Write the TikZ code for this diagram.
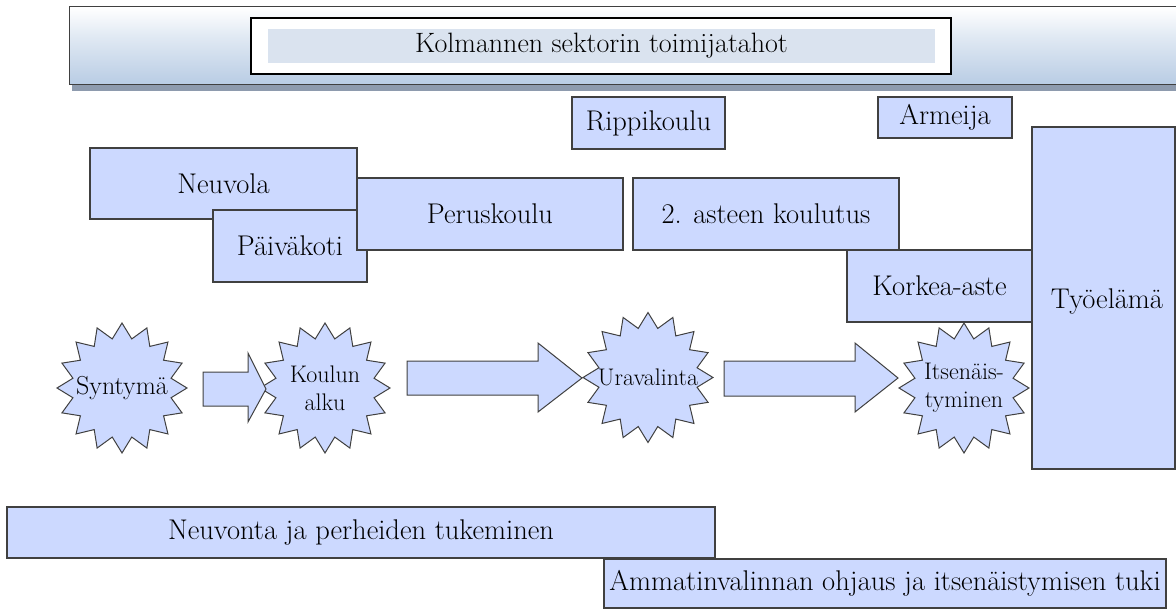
\documentclass[tikz,border=0pt]{standalone}
\usepackage{fontspec}
\usetikzlibrary{shapes.geometric}
\definecolor{boxfill}{HTML}{CCD9FF}
\definecolor{boxline}{HTML}{404040}
\definecolor{bannerblue}{HTML}{B8CCE4}
\definecolor{shadowgray}{HTML}{8E9BAE}
\definecolor{titlefill}{HTML}{DAE3EF}
\pgfdeclareverticalshading{bannershade}{100bp}{color(0bp)=(bannerblue); color(25bp)=(bannerblue); color(55bp)=(bannerblue!45!white); color(75bp)=(white); color(100bp)=(white)}
\tikzset{
  lifebox/.style={draw=boxline, line width=1.1pt, fill=boxfill, inner sep=0pt,
    font=\fontsize{28.5}{34}\selectfont},
  burst/.style={star, star points=16, star point ratio=1.3, draw=boxline,
    line width=1pt, fill=boxfill, minimum size=130pt, inner sep=0pt},
  bursttext/.style={font=\fontsize{24}{28}\selectfont, align=center, inner sep=0pt},
  blockarrow/.style={draw=boxline, line width=1pt, fill=boxfill, line join=miter}
}
\begin{document}
\begin{tikzpicture}[x=1pt,y=-1pt]
\useasboundingbox (0,0) rectangle (1176,610);
% banner
\fill[shadowgray] (72,85) rectangle (1176,91);
\shade[shading=bannershade] (69,7) rectangle (1176,85);
\draw[boxline, line width=1pt] (1176,7) -- (69,7) -- (69,85) -- (1176,85);
\node[draw=black, line width=2.5pt, fill=white, minimum width=700pt, minimum height=56pt, inner sep=0pt] (titlebox) at (601,46) {};
\node[fill=titlefill, minimum width=667pt, minimum height=34pt, inner sep=0pt] (titleband) at (601.5,46) {};
\node[font=\fontsize{28}{34}\selectfont, inner sep=0pt] (title) at (titleband) {Kolmannen sektorin toimijatahot};
% boxes
\node[lifebox, minimum width=153pt, minimum height=52pt] (ripp) at (648.5,123) {Rippikoulu};
\node[lifebox, minimum width=134pt, minimum height=41pt] (armeija) at (945,117.5) {Armeija};
\node[lifebox, minimum width=267pt, minimum height=71pt] (neuvola) at (223.5,183.5) {Neuvola};
\node[lifebox, minimum width=154pt, minimum height=72pt] (paiva) at (290,246) {Päiväkoti};
\node[lifebox, minimum width=266pt, minimum height=72pt] (perus) at (490,214) {Peruskoulu};
\node[lifebox, minimum width=266pt, minimum height=72pt] (toinen) at (766,214) {2. asteen koulutus};
\node[lifebox, minimum width=185pt, minimum height=72pt] (korkea) at (939.5,286) {Korkea-aste};
\node[lifebox, minimum width=143pt, minimum height=342pt] (tyo) at (1103.5,298) {};
\node[font=\fontsize{28.5}{34}\selectfont, inner sep=0pt] (tyotext) at (1107,302) {Työelämä};
% stars
\node[burst] (s1) at (122,388) {};
\node[bursttext, font=\fontsize{26}{28}\selectfont] (s1t) at (s1) {Syntymä};
\node[burst] (s2) at (325,388) {};
\node[bursttext] (s2t) at (s2) {Koulun\\alku};
\node[burst] (s3) at (648,377.5) {};
\node[bursttext] (s3t) at (s3) {Uravalinta};
\node[burst] (s4) at (964,388) {};
\node[bursttext] (s4t) at (s4) {Itsenäis-\\tyminen};
% block arrows
\draw[blockarrow] (203,372) -- (248,372) -- (248,353) -- (266,389) -- (248,422) -- (248,406) -- (203,406) -- cycle;
\draw[blockarrow] (407,361) -- (538,361) -- (538,343) -- (582,378) -- (538,412) -- (538,395) -- (407,395) -- cycle;
\draw[blockarrow] (724,361) -- (855,361) -- (855,343) -- (898,378) -- (855,412) -- (855,396) -- (724,396) -- cycle;
% bottom boxes
\node[lifebox, minimum width=708pt, minimum height=51pt] (neuvonta) at (361,532.5) {Neuvonta ja perheiden tukeminen};
\node[lifebox, minimum width=562pt, minimum height=49pt] (ammat) at (885,583.5) {Ammatinvalinnan ohjaus ja itsenäistymisen tuki};
\end{tikzpicture}
\end{document}
